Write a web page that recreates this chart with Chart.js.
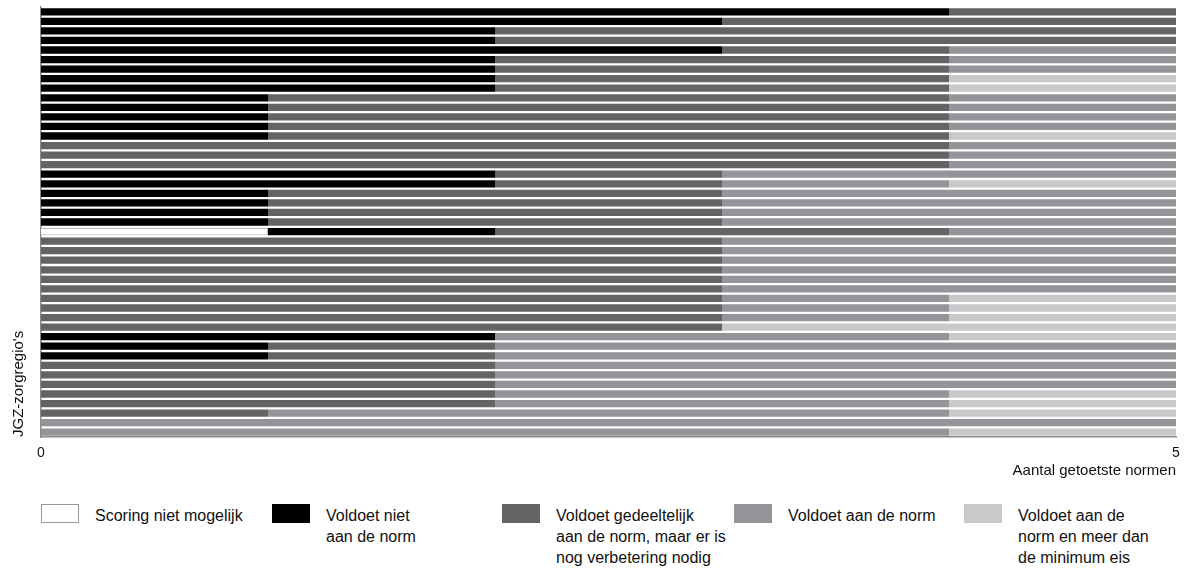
<!DOCTYPE html>
<html>
<head>
<meta charset="utf-8">
<script src="https://cdn.jsdelivr.net/npm/chart.js@4"></script>
<style>
    body { margin: 0; background: #fff; font-family: 'Liberation Sans Narrow', 'Liberation Sans', sans-serif; }
    #wrap { position: relative; width: 1188px; height: 569px; }
    #box { position: absolute; left: 0; top: 0; width: 1188px; height: 480px; }
    .item { position: absolute; top: 504px; }
    .swatch { position: absolute; left: 0; top: 0; width: 38px; height: 19px; box-sizing: border-box; }
    .text { position: absolute; left: 54px; top: 1px; width: 180px; font-size: 16px; line-height: 21px; color: #111; white-space: pre-line; }
</style>
</head>
<body>
<div id="wrap">
    <div id="box"><canvas id="chart"></canvas></div>
    <div id="legend"></div>
</div>
<script>
const regions = ['1','2','3','4','5','6','7','8','9','10','11','12','13','14','15','16','17','18','19','20','21','22','23','24','25','26','27','28','29','30','31','32','33','34','35','36','37','38','39','40','41','42','43','44','45'];

const seriesLabels = [
    'Scoring niet mogelijk',
    'Voldoet niet\naan de norm',
    'Voldoet gedeeltelijk\naan de norm, maar er is\nnog verbetering nodig',
    'Voldoet aan de norm',
    'Voldoet aan de\nnorm en meer dan\nde minimum eis'
];

const nietMogelijk = [0,0,0,0,0, 0,0,0,0,0, 0,0,0,0,0, 0,0,0,0,0, 0,0,0,1,0, 0,0,0,0,0, 0,0,0,0,0, 0,0,0,0,0, 0,0,0,0,0];
const voldoetNiet  = [4,3,2,2,3, 2,2,2,2,1, 1,1,1,1,0, 0,0,2,2,1, 1,1,1,1,0, 0,0,0,0,0, 0,0,0,0,2, 1,1,0,0,0, 0,0,0,0,0];
const gedeeltelijk = [1,2,3,3,1, 2,2,2,2,3, 3,3,3,3,4, 4,4,1,1,2, 2,2,2,2,3, 3,3,3,3,3, 3,3,3,3,0, 1,1,2,2,2, 2,2,1,0,0];
const voldoet      = [0,0,0,0,1, 1,1,0,0,1, 1,1,1,0,1, 1,1,2,1,2, 2,2,2,1,2, 2,2,2,2,2, 1,1,1,0,2, 3,3,3,3,3, 2,2,3,5,4];
const meerDanEis   = [0,0,0,0,0, 0,0,1,1,0, 0,0,0,1,0, 0,0,0,1,0, 0,0,0,0,0, 0,0,0,0,0, 1,1,1,2,1, 0,0,0,0,0, 1,1,1,0,1];

const xTicks = [0, 5];

const colors = ['#ffffff', '#000000', '#636466', '#939598', '#c8c9cb'];
const values = [nietMogelijk, voldoetNiet, gedeeltelijk, voldoet, meerDanEis];

const canvas = document.getElementById('chart').getContext('2d');
const font = "'Liberation Sans Narrow', 'Liberation Sans', sans-serif";

const datasets = values.map((data, i) => ({
    label: seriesLabels[i].replace(/\n/g, ' '),
    data,
    backgroundColor: colors[i],
    borderColor: '#b8b8b8',
    borderWidth: i === 0 ? (ctx => ctx.raw ? 1 : 0) : 0,
    barPercentage: 0.76,
    categoryPercentage: 1
}));

const chart = new Chart(canvas, {
    type: 'bar',
    data: {
        labels: regions,
        datasets
    },
    options: {
        indexAxis: 'y',
        responsive: true,
        maintainAspectRatio: false,
        animation: false,
        layout: { padding: { top: 7, right: 12, left: 0, bottom: 0 } },
        plugins: {
            legend: { display: false },
            tooltip: { enabled: false }
        },
        scales: {
            x: {
                stacked: true,
                min: 0,
                max: 5,
                afterBuildTicks: (scale) => { scale.ticks = xTicks.map(v => ({ value: v })); },
                afterFit: (scale) => { scale.height = 43; },
                grid: { display: false },
                border: { display: true, color: '#8a8a8a', width: 1.5 },
                ticks: {
                    padding: 0,
                    maxRotation: 0,
                    color: '#111',
                    font: { family: font, size: 14 }
                },
                title: {
                    display: true,
                    text: 'Aantal getoetste normen',
                    align: 'end',
                    color: '#111',
                    padding: { top: 0, bottom: 0 },
                    font: { family: font, size: 15 }
                }
            },
            y: {
                stacked: true,
                afterFit: (scale) => { scale.width = 41; },
                grid: { display: false },
                border: { display: true, color: '#8a8a8a', width: 1.5 },
                ticks: { display: false },
                title: {
                    display: true,
                    text: "JGZ-zorgregio's",
                    align: 'start',
                    color: '#111',
                    padding: { top: 10, bottom: 0 },
                    font: { family: font, size: 15 }
                }
            }
        }
    }
});

// legend built from the same series
const legendLefts = [41, 272, 502, 734, 964];
const legend = document.getElementById('legend');
seriesLabels.forEach((label, i) => {
    const item = document.createElement('div');
    item.className = 'item';
    item.style.left = legendLefts[i] + 'px';
    const sw = document.createElement('div');
    sw.className = 'swatch';
    sw.style.background = colors[i];
    if (i === 0) sw.style.border = '1px solid #999';
    const tx = document.createElement('div');
    tx.className = 'text';
    tx.textContent = label;
    item.appendChild(sw);
    item.appendChild(tx);
    legend.appendChild(item);
});
</script>
</body>
</html>
